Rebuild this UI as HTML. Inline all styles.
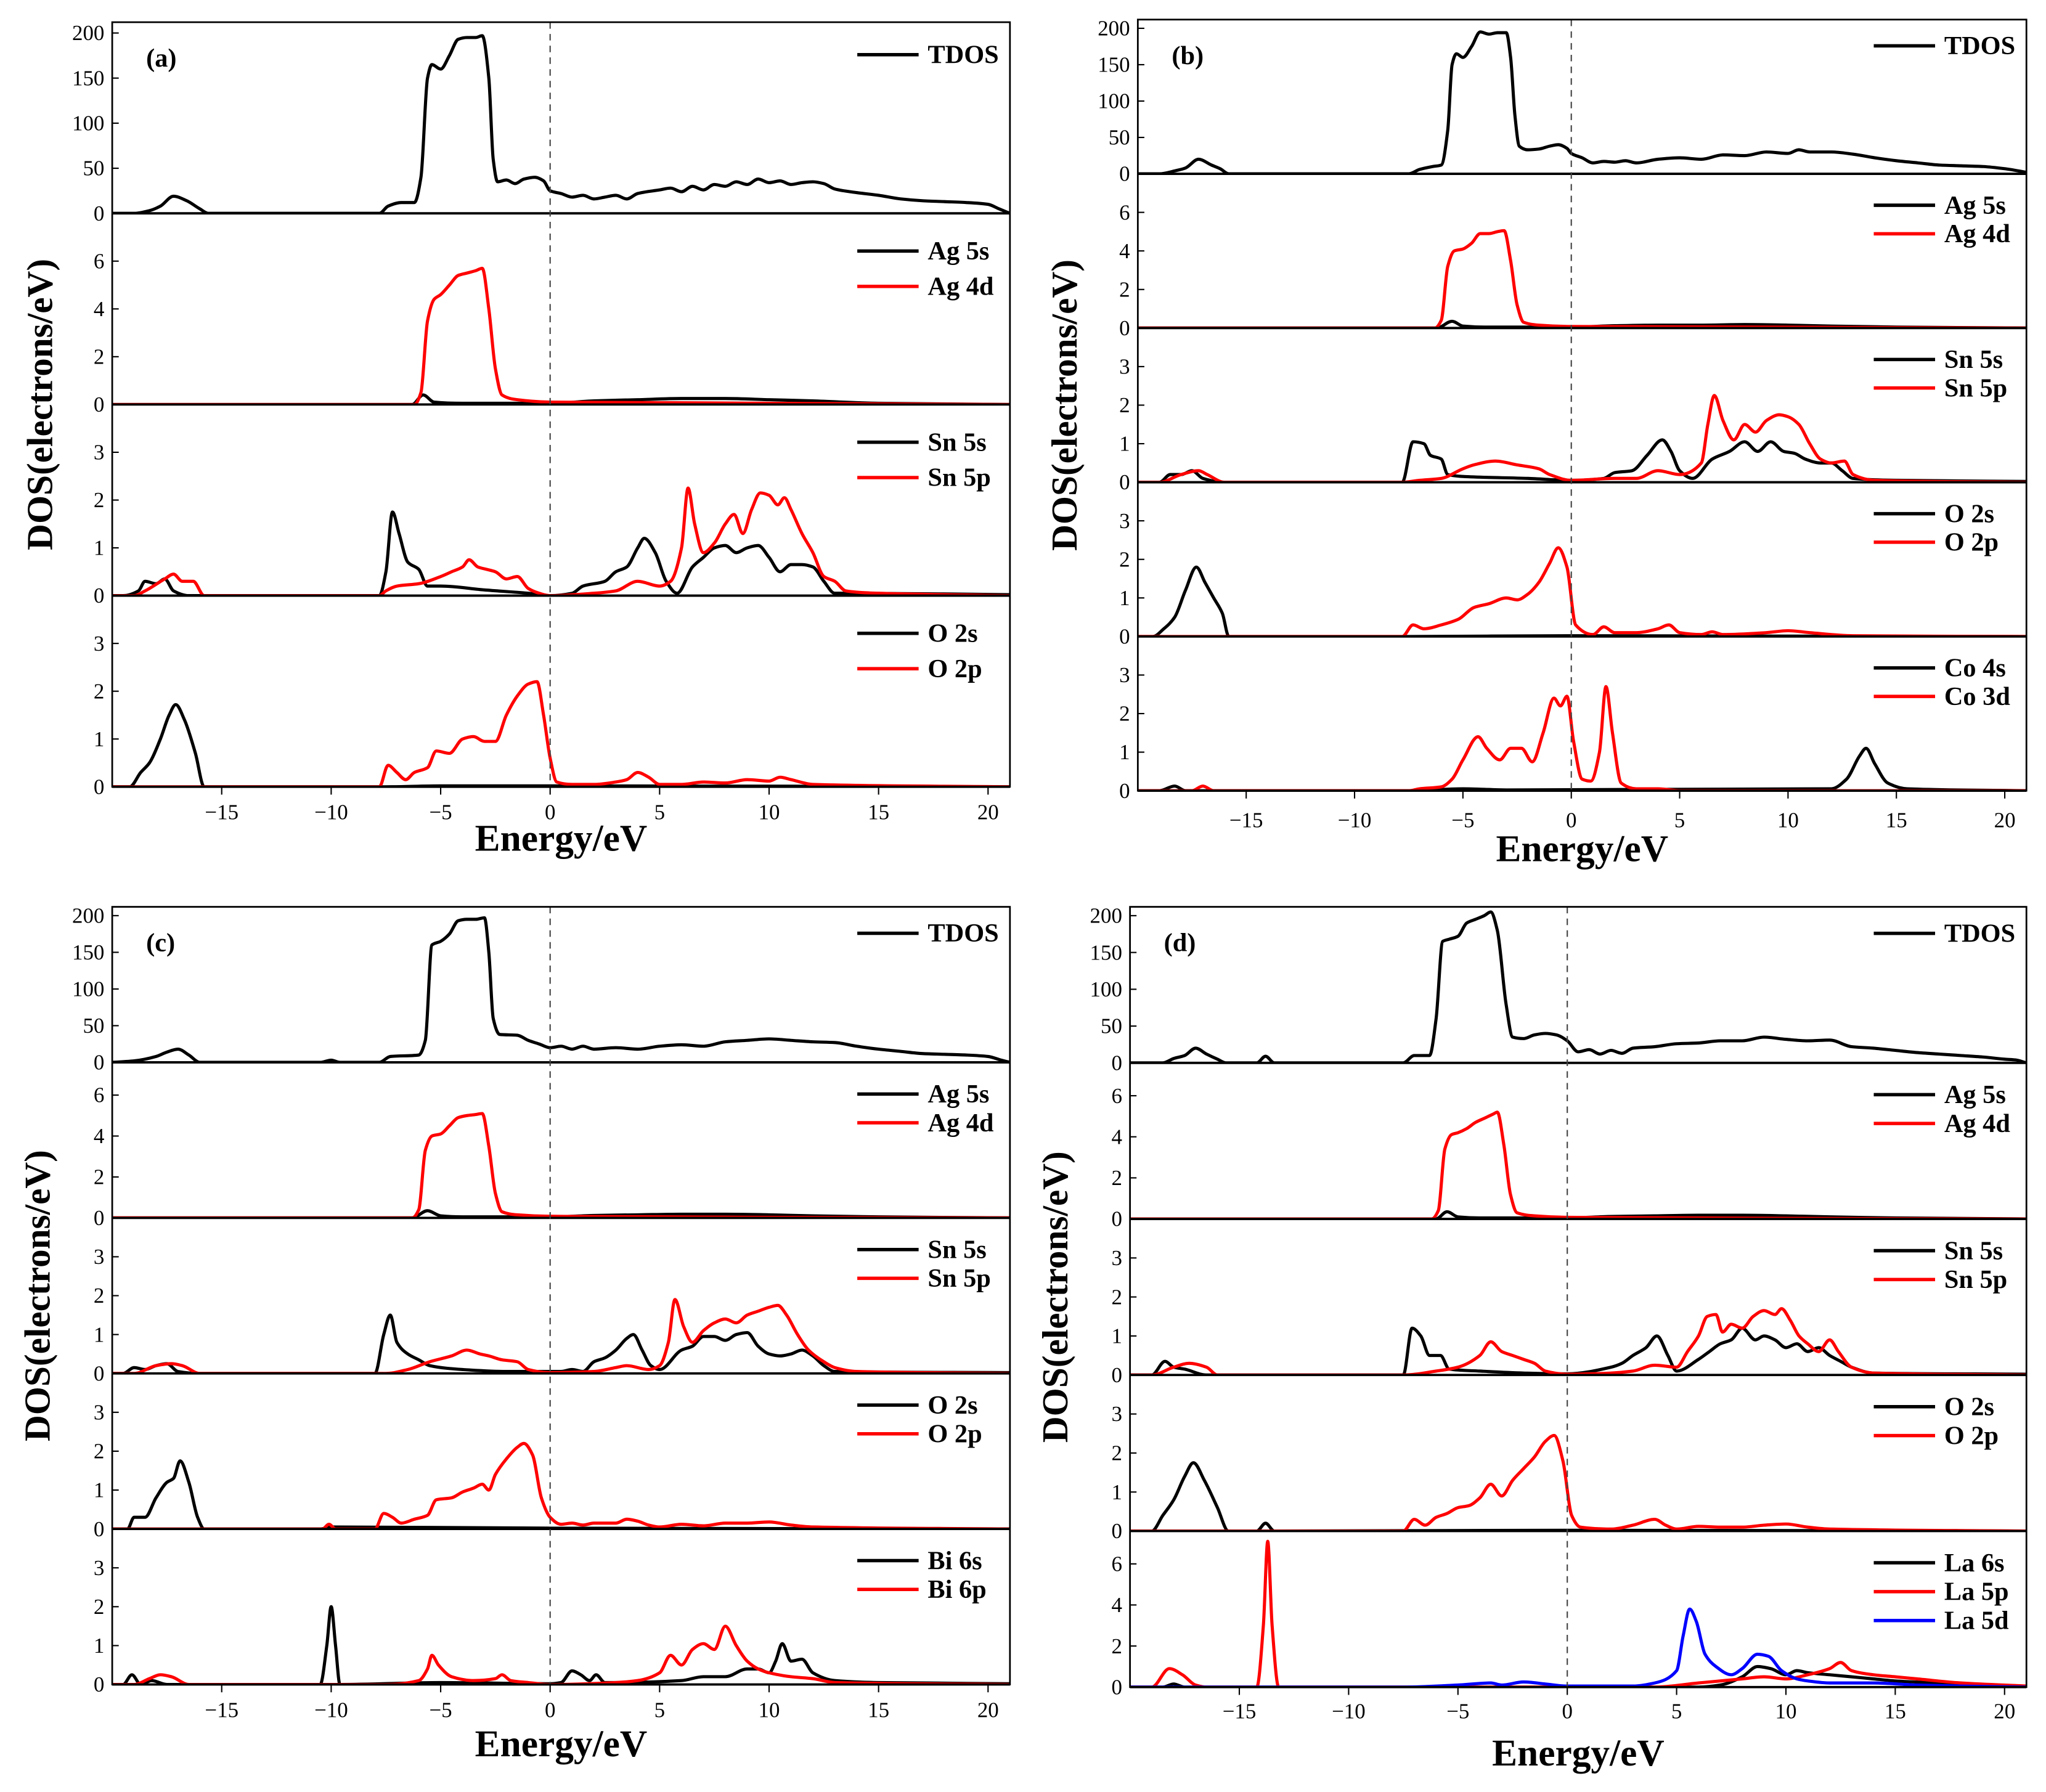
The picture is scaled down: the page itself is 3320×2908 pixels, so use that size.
<!DOCTYPE html>
<html><head><meta charset="utf-8"><style>
html,body{margin:0;padding:0;background:#fff;}
svg{display:block;}
text{font-family:"Liberation Serif",serif;}
</style></head><body>
<svg id="fig" width="3320" height="2908" viewBox="0 0 1568 1373.4" xmlns="http://www.w3.org/2000/svg"></svg>
<script>
// ---------- data (energy eV, DOS) ----------
const A_TDOS=[[-20,0],[-19,0],[-18.3,3],[-17.8,8],[-17.2,19],[-16.6,14],[-16,5],[-15.6,0],[-7.8,0],[-7.4,8],[-6.8,12],[-6.2,12],[-5.9,40],[-5.6,150],[-5.4,165],[-5,160],[-4.6,175],[-4.2,193],[-3.8,195],[-3.4,195],[-3.1,197],[-2.8,150],[-2.6,60],[-2.4,35],[-2,37],[-1.6,33],[-1.2,38],[-0.7,40],[-0.3,36],[0,25],[0.5,22],[1,18],[1.5,20],[2,16],[2.5,18],[3,20],[3.5,16],[4,22],[5,26],[5.5,28],[6,24],[6.5,30],[7,26],[7.5,32],[8,30],[8.5,35],[9,32],[9.5,38],[10,34],[10.5,36],[11,32],[11.5,34],[12,35],[12.5,33],[13,27],[14,23],[15,20],[16,16],[17,14],[18,13],[19,12],[20,10],[20.5,5],[21,0]];
const A_AG5S=[[-20,0],[-6.3,0],[-5.8,0.4],[-5.3,0.1],[-4,0.05],[0,0.05],[2,0.15],[4,0.2],[6,0.25],[8,0.25],[10,0.2],[12,0.15],[15,0.05],[21,0]];
const A_AG4D=[[-20,0],[-6.2,0],[-5.9,0.5],[-5.6,3.5],[-5.3,4.4],[-5,4.6],[-4.6,5],[-4.2,5.4],[-3.8,5.5],[-3.4,5.6],[-3.1,5.7],[-2.8,4],[-2.5,1.5],[-2.2,0.4],[-1.5,0.2],[0,0.1],[21,0]];
const A_SN5S=[[-20,0],[-19.5,0],[-18.8,0.1],[-18.5,0.3],[-18,0.25],[-17.6,0.35],[-17.2,0.1],[-16.5,0],[-7.8,0],[-7.5,0.5],[-7.2,1.75],[-6.9,1.3],[-6.5,0.7],[-6,0.55],[-5.6,0.2],[-5,0.2],[-3,0.12],[-1,0.05],[0,0],[1,0.05],[1.5,0.2],[2.5,0.3],[3,0.5],[3.5,0.6],[4,1.0],[4.3,1.2],[4.8,0.9],[5.3,0.3],[5.8,0.05],[6.5,0.6],[7,0.8],[7.5,1.0],[8,1.05],[8.5,0.9],[9,1.0],[9.5,1.05],[10,0.8],[10.5,0.5],[11,0.65],[11.5,0.65],[12,0.6],[12.5,0.3],[13,0.05],[14,0.05],[21,0.02]];
const A_SN5P=[[-20,0],[-19,0],[-18.5,0.1],[-17.6,0.35],[-17.2,0.45],[-16.8,0.3],[-16.3,0.3],[-15.8,0],[-7.8,0],[-7.5,0.1],[-7,0.2],[-6,0.25],[-5,0.4],[-4.5,0.5],[-4,0.6],[-3.7,0.75],[-3.3,0.6],[-2.9,0.55],[-2.5,0.5],[-2,0.35],[-1.5,0.4],[-1,0.15],[-0.5,0.05],[0,0],[2,0.05],[3,0.1],[4,0.3],[5,0.2],[5.5,0.3],[6,1.0],[6.3,2.25],[6.6,1.5],[7,0.9],[7.5,1.1],[8,1.5],[8.4,1.7],[8.8,1.3],[9.2,1.8],[9.6,2.15],[10,2.1],[10.4,1.9],[10.7,2.05],[11,1.8],[11.5,1.3],[12,0.9],[12.5,0.4],[13,0.3],[13.5,0.1],[15,0.05],[21,0]];
const A_O2S=[[-20,0],[-19.2,0],[-18.7,0.3],[-18.3,0.5],[-17.8,1.0],[-17.4,1.5],[-17.1,1.72],[-16.7,1.4],[-16.2,0.7],[-15.8,0],[-7.5,0],[-5,0.02],[0,0.02],[21,0]];
const A_O2P=[[-20,0],[-7.8,0],[-7.4,0.45],[-7,0.3],[-6.6,0.15],[-6.2,0.3],[-5.6,0.4],[-5.2,0.75],[-4.6,0.7],[-4,1.0],[-3.5,1.05],[-3,0.95],[-2.5,0.95],[-2,1.5],[-1.5,1.9],[-1,2.15],[-0.6,2.2],[-0.3,1.5],[0,0.6],[0.3,0.1],[1,0.05],[2,0.05],[3,0.1],[3.5,0.15],[4,0.3],[4.5,0.2],[5,0.05],[6,0.05],[7,0.1],[8,0.08],[9,0.15],[10,0.12],[10.5,0.2],[11,0.15],[12,0.05],[21,0]];

const B_TDOS=[[-20,0],[-19,0],[-18.3,4],[-17.8,8],[-17.2,20],[-16.6,12],[-16.2,7],[-15.8,0],[-7.5,0],[-7,6],[-6.4,10],[-6,12],[-5.7,60],[-5.5,150],[-5.3,165],[-5,160],[-4.6,175],[-4.2,195],[-3.8,192],[-3.4,194],[-3,194],[-2.8,160],[-2.6,80],[-2.4,38],[-2,33],[-1.5,34],[-1,38],[-0.6,40],[-0.2,35],[0,28],[0.5,22],[1,15],[1.5,17],[2,16],[2.5,18],[3,15],[4,20],[5,22],[6,20],[7,26],[8,25],[9,30],[10,28],[10.5,33],[11,30],[12,30],[13,27],[14,22],[15,18],[16,15],[17,12],[18,11],[19,10],[20,7],[21,2]];
const B_AG5S=[[-20,0],[-6.2,0],[-5.5,0.35],[-5,0.1],[-4,0.05],[0,0.05],[2,0.12],[4,0.15],[6,0.15],[8,0.18],[10,0.15],[12,0.1],[15,0.05],[21,0]];
const B_AG4D=[[-20,0],[-6.3,0],[-6,0.4],[-5.7,3.2],[-5.4,4.0],[-5,4.1],[-4.6,4.4],[-4.2,4.9],[-3.8,4.9],[-3.4,5.0],[-3.1,5.05],[-2.8,3.5],[-2.5,1.2],[-2.2,0.3],[-1.5,0.15],[0,0.08],[21,0]];
const B_SN5S=[[-20,0],[-19,0],[-18.5,0.2],[-18,0.2],[-17.5,0.3],[-17,0.1],[-16,0],[-7.8,0],[-7.3,1.05],[-6.8,1.0],[-6.5,0.7],[-6,0.6],[-5.7,0.2],[-5,0.15],[-2,0.1],[0,0.05],[1.5,0.1],[2,0.25],[2.8,0.3],[3.5,0.7],[4.2,1.1],[4.6,0.8],[5,0.3],[5.6,0.1],[6.5,0.6],[7.3,0.8],[8,1.05],[8.6,0.8],[9.2,1.05],[9.8,0.8],[10.3,0.75],[10.8,0.6],[11.5,0.5],[12,0.5],[12.5,0.3],[13,0.1],[15,0.05],[21,0.02]];
const B_SN5P=[[-20,0],[-19,0],[-18,0.2],[-17.2,0.3],[-16.8,0.2],[-16,0],[-7.8,0],[-7,0.05],[-6,0.1],[-5,0.35],[-4.5,0.45],[-3.5,0.55],[-2.5,0.45],[-1.5,0.35],[-1,0.2],[0,0.05],[2,0.1],[3,0.1],[4,0.3],[5,0.2],[6,0.5],[6.3,1.5],[6.6,2.25],[7,1.6],[7.5,1.1],[8,1.5],[8.5,1.3],[9,1.6],[9.6,1.75],[10,1.7],[10.5,1.5],[11,1.0],[11.5,0.6],[12,0.5],[12.6,0.55],[13,0.2],[14,0.05],[21,0]];
const B_O2S=[[-20,0],[-19.3,0],[-18.8,0.2],[-18.3,0.5],[-17.8,1.2],[-17.3,1.8],[-16.9,1.4],[-16.5,1.0],[-16.1,0.6],[-15.8,0],[-7.5,0],[0,0.02],[21,0]];
const B_O2P=[[-20,0],[-7.8,0],[-7.3,0.3],[-6.8,0.2],[-6,0.3],[-5.2,0.45],[-4.5,0.75],[-3.8,0.85],[-3,1.0],[-2.5,0.95],[-2,1.1],[-1.5,1.4],[-1,1.9],[-0.6,2.3],[-0.2,1.8],[0.2,0.3],[1,0.05],[1.5,0.25],[2,0.1],[3,0.1],[4,0.2],[4.5,0.3],[5,0.1],[6,0.05],[6.5,0.12],[7,0.05],[9,0.1],[10,0.15],[11,0.1],[13,0.02],[21,0]];
const B_CO4S=[[-20,0],[-19,0],[-18.3,0.12],[-17.8,0],[-7.5,0],[-5,0.05],[-3,0.02],[12,0.05],[12.7,0.3],[13.3,0.9],[13.6,1.1],[14,0.7],[14.6,0.2],[15.5,0.05],[21,0]];
const B_CO3D=[[-20,0],[-17.5,0],[-17.0,0.12],[-16.5,0],[-7.5,0],[-7,0.05],[-6,0.1],[-5.5,0.3],[-5,0.8],[-4.3,1.4],[-3.9,1.1],[-3.3,0.8],[-2.8,1.1],[-2.3,1.1],[-1.8,0.75],[-1.3,1.5],[-0.8,2.4],[-0.5,2.2],[-0.2,2.45],[0.1,1.3],[0.5,0.3],[0.9,0.25],[1.3,1.0],[1.6,2.7],[1.9,1.5],[2.3,0.2],[3,0.05],[4,0.05],[5,0],[21,0]];

const C_TDOS=[[-20,0],[-19,2],[-18,8],[-17.5,14],[-17,18],[-16.5,10],[-16,0],[-10.5,0],[-10,3],[-9.6,0],[-7.8,0],[-7.3,8],[-6,10],[-5.7,30],[-5.4,160],[-5,165],[-4.6,175],[-4.2,193],[-3.8,195],[-3.4,195],[-3,197],[-2.8,150],[-2.6,60],[-2.3,38],[-1.5,37],[-1,30],[-0.5,25],[0,20],[0.5,22],[1,18],[1.5,22],[2,18],[3,20],[4,18],[5,22],[6,24],[7,22],[8,28],[9,30],[10,32],[11,30],[12,28],[13,27],[14,22],[15,18],[16,15],[17,12],[18,11],[19,10],[20,8],[20.6,3],[21,0]];
const C_AG5S=[[-20,0],[-6.3,0],[-5.6,0.35],[-5,0.1],[-4,0.05],[0,0.05],[2,0.12],[4,0.15],[6,0.18],[8,0.18],[10,0.15],[12,0.1],[15,0.05],[21,0]];
const C_AG4D=[[-20,0],[-6.3,0],[-6,0.4],[-5.7,3.3],[-5.4,4.0],[-5,4.1],[-4.6,4.5],[-4.2,4.9],[-3.8,5.0],[-3.4,5.05],[-3.1,5.1],[-2.8,3.5],[-2.5,1.2],[-2.2,0.3],[-1.5,0.15],[0,0.08],[21,0]];
const C_SN5S=[[-20,0],[-19.5,0],[-19,0.15],[-18.5,0.1],[-18,0.2],[-17.5,0.25],[-17,0.05],[-16,0],[-8,0],[-7.6,1.0],[-7.3,1.5],[-7,0.8],[-6.5,0.5],[-6,0.35],[-5.5,0.2],[-4,0.1],[-2,0.05],[0,0.05],[0.5,0.05],[1,0.1],[1.5,0.05],[2,0.3],[2.5,0.4],[3,0.6],[3.5,0.9],[3.8,1.0],[4.2,0.6],[4.6,0.2],[5,0.1],[6,0.6],[6.5,0.7],[7,0.95],[7.5,0.95],[8,0.85],[8.5,1.0],[9,1.05],[9.5,0.7],[10,0.5],[10.5,0.45],[11,0.5],[11.5,0.6],[12,0.45],[12.5,0.2],[13,0.05],[21,0.02]];
const C_SN5P=[[-20,0],[-19,0],[-18,0.2],[-17.3,0.25],[-16.8,0.2],[-16,0],[-7.5,0],[-6.5,0.1],[-5.5,0.3],[-4.5,0.45],[-3.8,0.6],[-3.2,0.5],[-2.8,0.45],[-2.2,0.35],[-1.5,0.3],[-1,0.1],[0,0.02],[2,0.05],[3,0.15],[3.5,0.2],[4.5,0.1],[5,0.2],[5.4,0.8],[5.7,1.9],[6.1,1.2],[6.5,0.8],[7,1.1],[7.5,1.3],[8,1.4],[8.5,1.3],[9,1.5],[9.5,1.6],[10,1.7],[10.4,1.75],[10.8,1.5],[11.3,1.0],[11.8,0.6],[12.5,0.3],[13,0.15],[14,0.05],[21,0]];
const C_O2S=[[-20,0],[-19.3,0],[-19,0.3],[-18.5,0.3],[-18,0.8],[-17.5,1.2],[-17.2,1.3],[-16.9,1.75],[-16.5,1.2],[-16.1,0.3],[-15.8,0],[-10.5,0],[-10,0.05],[0,0.02],[21,0]];
const C_O2P=[[-20,0],[-10.4,0],[-10.1,0.12],[-9.8,0],[-8,0],[-7.6,0.4],[-7.2,0.3],[-6.8,0.15],[-6.2,0.25],[-5.6,0.35],[-5.2,0.75],[-4.5,0.8],[-4,0.95],[-3.5,1.05],[-3.1,1.15],[-2.8,1.0],[-2.5,1.4],[-2,1.8],[-1.5,2.1],[-1.2,2.2],[-0.8,1.9],[-0.4,0.8],[0,0.3],[0.5,0.12],[1,0.15],[1.5,0.1],[2,0.15],[3,0.15],[3.5,0.25],[4,0.2],[4.5,0.1],[5,0.05],[6,0.12],[7,0.08],[8,0.15],[9,0.15],[10,0.18],[11,0.1],[12,0.05],[21,0]];
const C_BI6S=[[-20,0],[-19.5,0],[-19.1,0.25],[-18.7,0],[-18.2,0.1],[-17.5,0],[-10.5,0],[-10.2,1.0],[-10.0,2.0],[-9.8,1.0],[-9.6,0],[-5,0.05],[0,0.02],[0.5,0.05],[1,0.35],[1.4,0.25],[1.8,0.1],[2.1,0.25],[2.5,0.05],[3,0.05],[6,0.1],[7,0.2],[8,0.2],[9,0.4],[9.5,0.4],[10,0.3],[10.3,0.6],[10.6,1.05],[11,0.6],[11.5,0.65],[12,0.3],[13,0.1],[15,0.05],[21,0.02]];
const C_BI6P=[[-20,0],[-19,0],[-18.3,0.15],[-17.8,0.25],[-17.3,0.2],[-16.5,0],[-7.5,0],[-6,0.1],[-5.6,0.4],[-5.4,0.75],[-5.1,0.5],[-4.5,0.2],[-3.5,0.1],[-2.5,0.15],[-2.2,0.25],[-1.8,0.1],[-1,0.05],[0,0],[3,0.05],[4,0.1],[5,0.3],[5.5,0.75],[6,0.5],[6.5,0.9],[7,1.05],[7.5,0.9],[8,1.5],[8.5,1.0],[9,0.6],[9.5,0.4],[10,0.3],[11,0.2],[12,0.15],[13,0.05],[21,0]];

const D_TDOS=[[-20,0],[-18.5,0],[-18,6],[-17.5,10],[-17,20],[-16.5,12],[-16,5],[-15.6,0],[-14.2,0],[-13.8,9],[-13.4,0],[-7.5,0],[-7,10],[-6.3,10],[-6,60],[-5.7,165],[-5.4,168],[-5,172],[-4.6,190],[-4.2,195],[-3.8,200],[-3.5,205],[-3.2,180],[-2.8,80],[-2.5,35],[-2,33],[-1.5,38],[-1,40],[-0.5,38],[0,30],[0.5,15],[1,18],[1.5,12],[2,17],[2.5,13],[3,20],[4,22],[5,26],[6,27],[7,30],[8,30],[9,35],[10,32],[11,30],[12,31],[13,22],[14,20],[15,17],[16,14],[17,12],[18,10],[19,8],[20,5],[20.5,4],[21,0]];
const D_AG5S=[[-20,0],[-6,0],[-5.5,0.35],[-5,0.1],[-4,0.05],[0,0.05],[2,0.12],[4,0.15],[6,0.18],[8,0.18],[10,0.15],[12,0.1],[15,0.05],[21,0]];
const D_AG4D=[[-20,0],[-6.2,0],[-5.9,0.4],[-5.6,3.4],[-5.3,4.1],[-5,4.2],[-4.6,4.4],[-4.2,4.7],[-3.8,4.9],[-3.4,5.1],[-3.2,5.2],[-2.9,3.6],[-2.6,1.2],[-2.3,0.3],[-1.5,0.15],[0,0.08],[21,0]];
const D_SN5S=[[-20,0],[-19,0],[-18.4,0.35],[-18,0.2],[-17.5,0.15],[-16.5,0],[-7.5,0],[-7.1,1.2],[-6.7,1.0],[-6.3,0.5],[-5.8,0.5],[-5.4,0.15],[-4,0.1],[-2,0.05],[0,0.03],[2,0.2],[2.5,0.3],[3,0.5],[3.6,0.7],[4.1,1.0],[4.6,0.5],[5,0.1],[6,0.4],[6.5,0.6],[7,0.8],[7.5,0.9],[8,1.2],[8.6,0.9],[9,1.0],[9.5,0.9],[10,0.7],[10.5,0.8],[11,0.6],[11.5,0.7],[12,0.5],[12.5,0.35],[13,0.2],[14,0.05],[21,0.02]];
const D_SN5P=[[-20,0],[-19,0],[-18,0.2],[-17.3,0.3],[-16.5,0.2],[-16,0],[-7.5,0],[-6,0.1],[-5,0.2],[-4,0.5],[-3.5,0.85],[-3,0.6],[-2.5,0.5],[-2,0.4],[-1.5,0.3],[-1,0.1],[0,0.02],[2,0.05],[3,0.1],[4,0.25],[5,0.2],[5.5,0.6],[6,1.0],[6.4,1.5],[6.8,1.55],[7.1,1.1],[7.5,1.3],[8,1.2],[8.5,1.5],[9,1.65],[9.5,1.55],[9.8,1.7],[10.2,1.4],[10.6,1.0],[11,0.8],[11.5,0.6],[12,0.9],[12.4,0.6],[13,0.2],[14,0.05],[21,0]];
const D_O2S=[[-20,0],[-19,0],[-18.5,0.4],[-18,0.8],[-17.5,1.4],[-17.1,1.75],[-16.6,1.3],[-16,0.6],[-15.5,0],[-14.2,0],[-13.8,0.2],[-13.4,0],[0,0.02],[21,0]];
const D_O2P=[[-20,0],[-7.5,0],[-7,0.3],[-6.5,0.15],[-6,0.35],[-5.5,0.45],[-5,0.6],[-4.5,0.65],[-4,0.85],[-3.5,1.2],[-3,0.9],[-2.5,1.3],[-2,1.6],[-1.5,1.9],[-1,2.3],[-0.6,2.45],[-0.2,1.8],[0.2,0.4],[0.6,0.1],[2,0.05],[3,0.15],[4,0.3],[4.5,0.15],[5,0.05],[6,0.12],[7,0.1],[8,0.1],[9,0.15],[10,0.18],[11,0.1],[12,0.05],[21,0]];
const D_LA6S=[[-20,0],[-18.5,0],[-18,0.15],[-17.5,0],[6,0],[7,0.1],[8,0.5],[8.7,1.0],[9.3,0.9],[10,0.6],[10.5,0.8],[11,0.7],[12,0.6],[13,0.5],[14,0.4],[15,0.3],[17,0.2],[19,0.1],[21,0]];
const D_LA5P=[[-20,0],[-19,0],[-18.2,0.9],[-17.6,0.6],[-17,0.1],[-16.5,0],[-14.2,0],[-13.9,3],[-13.7,7.1],[-13.5,3],[-13.2,0],[4,0],[6,0.2],[8,0.4],[9,0.5],[10,0.4],[11,0.6],[12,0.9],[12.5,1.2],[13,0.8],[14,0.6],[15,0.5],[16,0.4],[18,0.2],[21,0.05]];
const D_LA5D=[[-20,0],[-7.5,0],[-5,0.1],[-3.5,0.2],[-3,0.1],[-2,0.25],[-1,0.15],[0,0.05],[3,0.05],[4,0.2],[5,0.8],[5.3,2.5],[5.6,3.8],[5.9,3.2],[6.3,1.6],[6.8,1.0],[7.5,0.6],[8,0.9],[8.7,1.6],[9.2,1.5],[9.8,0.8],[10.5,0.4],[11,0.3],[12,0.2],[14,0.2],[16,0.1],[18,0.05],[21,0]];

const X_TICKS=[-15,-10,-5,0,5,10,15,20];
const T_TICKS=[0,50,100,150,200];
const AG_TICKS=[0,2,4,6];
const P_TICKS=[0,1,2,3];

// ---------- layout ----------
const NS="http://www.w3.org/2000/svg";
const svg=document.getElementById('fig');
function el(tag,attrs,parent){const e=document.createElementNS(NS,tag);for(const k in attrs)e.setAttribute(k,attrs[k]);(parent||svg).appendChild(e);return e;}
const RED='#ff0000',BLK='#000',BLU='#0000ff';
const panels=[
 {id:'a',x0:86,x1:774,y0:17,y1:603,xlabY:642,tickY:622,dosX:30,subs:[
  {max:212,ticks:T_TICKS,series:[[A_TDOS,BLK,'TDOS']]},
  {max:8,ticks:AG_TICKS,series:[[A_AG5S,BLK,'Ag 5s'],[A_AG4D,RED,'Ag 4d']]},
  {max:4,ticks:P_TICKS,series:[[A_SN5S,BLK,'Sn 5s'],[A_SN5P,RED,'Sn 5p']]},
  {max:4,ticks:P_TICKS,series:[[A_O2S,BLK,'O 2s'],[A_O2P,RED,'O 2p']]}]},
 {id:'b',x0:872,x1:1553,y0:15,y1:606,xlabY:650,tickY:628,dosX:815,subs:[
  {max:212,ticks:T_TICKS,series:[[B_TDOS,BLK,'TDOS']]},
  {max:8,ticks:AG_TICKS,series:[[B_AG5S,BLK,'Ag 5s'],[B_AG4D,RED,'Ag 4d']]},
  {max:4,ticks:P_TICKS,series:[[B_SN5S,BLK,'Sn 5s'],[B_SN5P,RED,'Sn 5p']]},
  {max:4,ticks:P_TICKS,series:[[B_O2S,BLK,'O 2s'],[B_O2P,RED,'O 2p']]},
  {max:4,ticks:P_TICKS,series:[[B_CO4S,BLK,'Co 4s'],[B_CO3D,RED,'Co 3d']]}]},
 {id:'c',x0:86,x1:774,y0:695,y1:1291,xlabY:1336,tickY:1310,dosX:28,subs:[
  {max:212,ticks:T_TICKS,series:[[C_TDOS,BLK,'TDOS']]},
  {max:7.6,ticks:AG_TICKS,series:[[C_AG5S,BLK,'Ag 5s'],[C_AG4D,RED,'Ag 4d']]},
  {max:4,ticks:P_TICKS,series:[[C_SN5S,BLK,'Sn 5s'],[C_SN5P,RED,'Sn 5p']]},
  {max:4,ticks:P_TICKS,series:[[C_O2S,BLK,'O 2s'],[C_O2P,RED,'O 2p']]},
  {max:4,ticks:P_TICKS,series:[[C_BI6S,BLK,'Bi 6s'],[C_BI6P,RED,'Bi 6p']]}]},
 {id:'d',x0:866,x1:1553,y0:695,y1:1293,xlabY:1343,tickY:1311,dosX:808,subs:[
  {max:212,ticks:T_TICKS,series:[[D_TDOS,BLK,'TDOS']]},
  {max:7.6,ticks:AG_TICKS,series:[[D_AG5S,BLK,'Ag 5s'],[D_AG4D,RED,'Ag 4d']]},
  {max:4,ticks:P_TICKS,series:[[D_SN5S,BLK,'Sn 5s'],[D_SN5P,RED,'Sn 5p']]},
  {max:4,ticks:P_TICKS,series:[[D_O2S,BLK,'O 2s'],[D_O2P,RED,'O 2p']]},
  {max:7.6,ticks:AG_TICKS,series:[[D_LA6S,BLK,'La 6s'],[D_LA5P,RED,'La 5p'],[D_LA5D,BLU,'La 5d']]}]}
];
const EMIN=-20,EMAX=21;
// monotone cubic (Fritsch-Carlson) -> no loops/overshoot
function smoothPath(p){
  const n=p.length,dx=[],m=[],t=[];
  for(let i=0;i<n-1;i++){dx[i]=p[i+1][0]-p[i][0];m[i]=(p[i+1][1]-p[i][1])/dx[i];}
  t[0]=m[0];t[n-1]=m[n-2];
  for(let i=1;i<n-1;i++){
    if(m[i-1]*m[i]<=0)t[i]=0;
    else{const w1=2*dx[i]+dx[i-1],w2=dx[i]+2*dx[i-1];t[i]=(w1+w2)/(w1/m[i-1]+w2/m[i]);}
  }
  let d='M'+p[0][0].toFixed(2)+','+p[0][1].toFixed(2);
  for(let i=0;i<n-1;i++){
    const h=dx[i]/3;
    d+='C'+(p[i][0]+h).toFixed(2)+','+(p[i][1]+t[i]*h).toFixed(2)+' '+(p[i+1][0]-h).toFixed(2)+','+(p[i+1][1]-t[i+1]*h).toFixed(2)+' '+p[i+1][0].toFixed(2)+','+p[i+1][1].toFixed(2);
  }
  return d;
}
panels.forEach(P=>{
  const g=el('g',{});
  
  
  const xs=e=>P.x0+(e-EMIN)/(EMAX-EMIN)*(P.x1-P.x0);
  const n=P.subs.length,h=(P.y1-P.y0)/n;
  P.subs.forEach((S,si)=>{
    const top=P.y0+si*h,bot=top+h;
    const ys=v=>bot-v/S.max*h;
    const sg=el('g',{},g);
    
    
    const cid='clip-'+P.id+si;
    const cp=el('clipPath',{id:cid},sg);
    el('rect',{x:P.x0,y:top,width:P.x1-P.x0,height:h},cp);
    S.ticks.forEach(t=>{
      const y=ys(t);
      const tk=el('line',{x1:P.x0,x2:P.x0+5,y1:y,y2:y,stroke:'#000','stroke-width':1},sg);
      
      
      const tl=el('text',{x:P.x0-6,y:y+5.5,'text-anchor':'end','font-size':16.5},sg);
      
      
      tl.textContent=t;
    });
    const cg=el('g',{'clip-path':'url(#'+cid+')'},sg);
    S.series.forEach((ser,k)=>{
      const pts=ser[0].map(p=>[xs(p[0]),ys(p[1])]);
      const path=el('path',{d:smoothPath(pts),fill:'none',stroke:ser[1],'stroke-width':2.4,'stroke-linejoin':'round'},cg);
      
      
      const ly=top+h*(0.17+0.185*k)+ (S.series.length===1?0:4);
      const ll=el('line',{x1:P.x1-117,x2:P.x1-70,y1:ly,y2:ly,stroke:ser[1],'stroke-width':2.6},sg);
      
      
      const lt=el('text',{x:P.x1-63,y:ly+6.5,'font-size':20,'font-weight':'bold'},sg);
      
      
      lt.textContent=ser[2];
    });
    const bl=el('line',{x1:P.x0,x2:P.x1,y1:bot,y2:bot,stroke:'#000','stroke-width':1.8},sg);
    
    
  });
  const dz=el('line',{x1:xs(0),x2:xs(0),y1:P.y0,y2:P.y1,stroke:'#444','stroke-width':1,'stroke-dasharray':'5,4'},g);
  
  
  const fr=el('rect',{x:P.x0,y:P.y0,width:P.x1-P.x0,height:P.y1-P.y0,fill:'none',stroke:'#000','stroke-width':1.3},g);
  
  
  X_TICKS.forEach(t=>{
    const x=xs(t);
    const tk=el('line',{x1:x,x2:x,y1:P.y1,y2:P.y1+6,stroke:'#000','stroke-width':1},g);
    
    
    const tl=el('text',{x:x,y:P.tickY+6,'text-anchor':'middle','font-size':16.5},g);
    
    
    tl.textContent=(t<0?'\u2212'+(-t):String(t));
  });
  const xl=el('text',{x:(P.x0+P.x1)/2,y:P.xlabY+10,'text-anchor':'middle','font-size':29,'font-weight':'bold'},g);
  
  
  xl.textContent='Energy/eV';
  const cy=(P.y0+P.y1)/2;
  const yl=el('text',{x:P.dosX,y:cy,'text-anchor':'middle','font-size':28,'font-weight':'bold',transform:'rotate(-90 '+(P.dosX)+' '+cy+') translate(0 10)'},g);
  
  
  yl.textContent='DOS(electrons/eV)';
  const pl=el('text',{x:P.x0+26,y:P.y0+34,'font-size':20,'font-weight':'bold'},g);
  
  
  pl.textContent='('+P.id+')';
});
</script>
</body></html>
